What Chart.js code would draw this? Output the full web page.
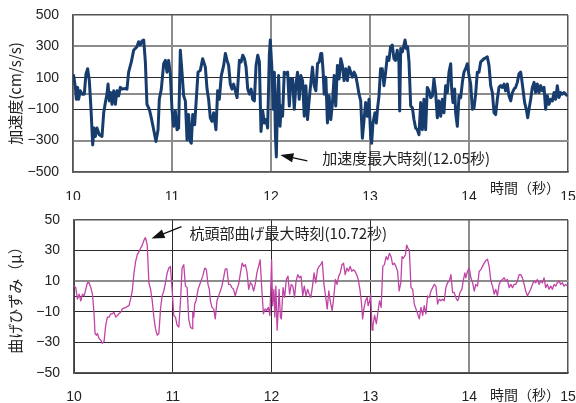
<!DOCTYPE html>
<html>
<head>
<meta charset="utf-8">
<script src="https://cdn.jsdelivr.net/npm/chart.js@4.4.1/dist/chart.umd.min.js"></script>
<style>
html, body { margin: 0; padding: 0; background: #fff; }
#wrap { position: relative; width: 576px; height: 403px; }
#wrap canvas { position: absolute; left: 0; }
</style>
</head>
<body>
<div id="wrap">
  <canvas id="accChart" width="576" height="200" style="top:0"></canvas>
  <canvas id="strainChart" width="576" height="203" style="top:200px"></canvas>
</div>
<script>
// acceleration (cm/s/s)
const accTime = [
  10.000, 10.007, 10.024, 10.034, 10.047, 10.057, 10.074, 10.091, 10.114, 10.131, 10.148, 10.165, 10.182, 10.199,
  10.212, 10.226, 10.242, 10.266, 10.293, 10.310, 10.327, 10.343, 10.354, 10.367, 10.380, 10.394, 10.411, 10.428,
  10.444, 10.461, 10.478, 10.495, 10.529, 10.545, 10.562, 10.589, 10.613, 10.646, 10.663, 10.680, 10.697, 10.714,
  10.731, 10.747, 10.771, 10.791, 10.815, 10.838, 10.859, 10.872, 10.892, 10.916, 10.933, 10.949, 10.966, 10.983,
  11.000, 11.017, 11.034, 11.051, 11.067, 11.084, 11.101, 11.118, 11.135, 11.152, 11.168, 11.185, 11.195, 11.209,
  11.229, 11.242, 11.263, 11.286, 11.310, 11.337, 11.354, 11.370, 11.387, 11.404, 11.421, 11.444, 11.461, 11.478,
  11.498, 11.522, 11.539, 11.556, 11.572, 11.589, 11.606, 11.623, 11.640, 11.657,
  11.681, 11.698, 11.715, 11.732, 11.748, 11.765, 11.782, 11.799, 11.815, 11.832, 11.849, 11.866, 11.883, 11.889,
  11.899, 11.916, 11.933, 11.950, 11.966, 11.983, 11.993, 12.010, 12.023, 12.034, 12.044, 12.054, 12.067, 12.077,
  12.091, 12.104, 12.117, 12.134, 12.151, 12.168, 12.185, 12.201, 12.218, 12.235, 12.252, 12.268, 12.285, 12.302,
  12.319, 12.336, 12.352, 12.369, 12.386, 12.403, 12.419, 12.436, 12.453, 12.470, 12.487, 12.503, 12.513, 12.527,
  12.537, 12.554, 12.570, 12.587, 12.604, 12.621, 12.638, 12.654, 12.671, 12.688, 12.705, 12.721, 12.738, 12.755,
  12.772, 12.789, 12.805, 12.822, 12.839, 12.856, 12.872, 12.889, 12.906, 12.923, 12.940, 12.956, 12.973, 12.990,
  13.007, 13.017, 13.030, 13.050, 13.064, 13.077, 13.091, 13.107, 13.124, 13.141, 13.158, 13.174, 13.191, 13.208,
  13.225, 13.242, 13.258, 13.275, 13.292, 13.300,
  13.310, 13.327, 13.343, 13.354, 13.367, 13.380, 13.394, 13.411, 13.428, 13.444, 13.461, 13.478, 13.495, 13.512,
  13.529, 13.545, 13.562, 13.579, 13.596, 13.613, 13.630, 13.646, 13.663, 13.680, 13.697, 13.714, 13.731, 13.747,
  13.764, 13.781, 13.798, 13.815, 13.825, 13.838, 13.855, 13.865, 13.882, 13.899, 13.916, 13.933, 13.949, 13.966,
  13.983, 14.000, 14.017, 14.034, 14.051, 14.067, 14.084, 14.101, 14.118, 14.135, 14.152, 14.168, 14.185, 14.202,
  14.219, 14.236, 14.253, 14.269, 14.286, 14.303, 14.320, 14.337, 14.354, 14.370, 14.387, 14.404, 14.421, 14.438,
  14.455, 14.471, 14.488, 14.505, 14.522, 14.532, 14.545, 14.562, 14.579, 14.593, 14.606, 14.623, 14.640, 14.657,
  14.673, 14.690, 14.707, 14.724, 14.741, 14.758, 14.774, 14.791, 14.808, 14.825, 14.842, 14.859, 14.875, 14.892,
  14.909, 14.926, 14.943, 14.960, 14.976, 14.993
];
const accVal = [
  105, 114, 39, -37, 39, -37, 17, -4, -4, 125, 158, 82, -101, -328,
  -220, -274, -220, -263, -274, -123, -58, -4, 60, -47, 6, -69, 17, -69,
  17, -15, 39, 28, 32, 28, 136, 201, 276, 298, 330, 309, 334, 341,
  201, -69, -101, -155, -231, -306, -231, -37, 28, 190, 211, 136, 211, 125,
  -101, -209, -112, -231, -220, 276, 136, -15, -47, -296, -134, -306, -317, -134,
  -199, -69, 136, 147, 222, 168, 28, -37, -155, -177, -123, -231, 17, -37,
  114, 179, 255, 211, 179, 60, 28, 60, 17, -26,
  211, 201, 244, 222, 168, 28, -4, 28, -37, -47, 179, 244, 201, 28,
  -242, -112, -188, -166, -220, 244, 341, 147, -101, 136, -252, -404, -15, 114,
  -209, -80, -145, 136, 125, 136, -80, 93, 93, -101, 60, 136, -37, 114,
  82, -145, 50, -166, -37, 71, 168, 50, 17, 190, 201, 255, 255, 136,
  -4, 104, -188, -15, -166, -58, 114, -80, 179, 93, 222, 179, 82, 158,
  82, 168, 136, 104, 136, 114, 60, -4, -47, -285, -166, -58, -145, -37,
  -274, -317, -188, -123, -188, -91, -15, 158, 158, 50, 136, 233, 211, 298,
  309, 222, 211, 276, 201, -112,
  287, 265, 309, 341, 287, 298, 201, -80, -91, -166, -220, -231, -263, -58,
  -231, -37, -231, 39, 17, -26, -15, 93, 6, -155, -47, -145, -37, -123,
  50, 6, 136, 190, 28, -58, 28, -123, -209, -15, -26, 71, 136, 158,
  190, 114, 60, -101, -91, -4, 136, 136, 201, 211, 222, 227, 233, 179,
  50, 6, -123, -134, -37, 39, 50, 39, 60, 17, 60, -15, -47, 6,
  28, 39, 71, 125, 136, 93, 28, -58, -101, -155, -101, -37, 39, 71,
  6, 60, 6, 50, 17, 39, -101, -15, -69, -37, -47, 6, -37, 50,
  -26, 6, -4, 6, -4, -15
];

// pile-head bending strain (μ)
const strainTime = [
  10.000, 10.018, 10.035, 10.052, 10.069, 10.086, 10.103, 10.119, 10.136, 10.153, 10.170, 10.187, 10.203, 10.213,
  10.227, 10.237, 10.254, 10.271, 10.287, 10.304, 10.321, 10.338, 10.355, 10.371, 10.388, 10.405, 10.422, 10.439,
  10.455, 10.472, 10.489, 10.523, 10.556, 10.573, 10.590, 10.607, 10.624, 10.640, 10.657, 10.674, 10.691, 10.708,
  10.724, 10.741, 10.758, 10.775, 10.792, 10.808, 10.825, 10.842, 10.859, 10.876, 10.892, 10.909, 10.926, 10.943,
  10.960, 10.976, 10.993, 11.010, 11.027, 11.044, 11.061, 11.077, 11.094, 11.111, 11.128, 11.145, 11.161, 11.178,
  11.195, 11.202, 11.212, 11.222, 11.235, 11.256, 11.279, 11.303, 11.323, 11.340, 11.356, 11.370, 11.380, 11.397,
  11.414, 11.430, 11.447, 11.464, 11.481, 11.497, 11.514, 11.531, 11.548, 11.565, 11.582, 11.598, 11.615, 11.632,
  11.649, 11.666,
  11.685, 11.702, 11.719, 11.735, 11.752, 11.768, 11.785, 11.801, 11.818, 11.834, 11.851, 11.868, 11.884, 11.901,
  11.917, 11.934, 11.950, 11.967, 11.983, 12.000, 12.010, 12.023, 12.033, 12.043, 12.056, 12.066, 12.076, 12.089,
  12.099, 12.116, 12.132, 12.149, 12.166, 12.182, 12.199, 12.215, 12.232, 12.248, 12.265, 12.281, 12.298, 12.315,
  12.331, 12.348, 12.364, 12.381, 12.397, 12.414, 12.430, 12.447, 12.464, 12.480, 12.497, 12.513, 12.530, 12.546,
  12.563, 12.579, 12.596, 12.613, 12.629, 12.646, 12.662, 12.679, 12.695, 12.712, 12.728, 12.745, 12.762, 12.778,
  12.795, 12.811, 12.828, 12.844, 12.861, 12.877, 12.894, 12.911, 12.921, 12.934, 12.950, 12.967, 12.977, 12.993,
  13.003, 13.017, 13.026, 13.043, 13.060, 13.076, 13.093, 13.109, 13.126, 13.142, 13.159, 13.175, 13.192, 13.209,
  13.225, 13.242, 13.258, 13.275, 13.291, 13.308,
  13.320, 13.333, 13.354, 13.367, 13.380, 13.394, 13.411, 13.428, 13.444, 13.461, 13.478, 13.495, 13.512, 13.529,
  13.545, 13.562, 13.579, 13.596, 13.613, 13.630, 13.646, 13.663, 13.680, 13.697, 13.714, 13.731, 13.747, 13.764,
  13.781, 13.798, 13.815, 13.832, 13.848, 13.865, 13.882, 13.892, 13.906, 13.926, 13.939, 13.956, 13.966, 13.983,
  14.000, 14.017, 14.034, 14.051, 14.067, 14.084, 14.101, 14.118, 14.135, 14.152, 14.168, 14.185, 14.202, 14.219,
  14.236, 14.253, 14.269, 14.286, 14.303, 14.320, 14.337, 14.354, 14.370, 14.387, 14.404, 14.421, 14.438, 14.455,
  14.471, 14.488, 14.505, 14.522, 14.539, 14.556, 14.572, 14.589, 14.606, 14.623, 14.640, 14.657, 14.673, 14.690,
  14.707, 14.724, 14.741, 14.758, 14.774, 14.791, 14.808, 14.825, 14.842, 14.859, 14.875, 14.892, 14.909, 14.926,
  14.943, 14.960, 14.976, 14.993
];
const strainVal = [
  7.0, 5.8, -1.7, 1.5, -2.8, 1.5, 0.4, 4.7, 9.0, 9.0, 5.8, 1.5, -11.3, -24.2,
  -25.3, -24.2, -27.4, -28.5, -30.6, -29.5, -18.8, -13.5, -13.5, -11.3, -11.3, -10.3, -13.5, -12.4,
  -11.3, -10.3, -8.1, -7.1, -6.0, -1.7, 3.6, 15.4, 22.9, 27.2, 29.3, 31.5, 33.6, 36.8,
  38.5, 33.6, 9.0, 4.7, -2.8, -13.5, -21.0, -25.3, -24.2, -8.1, 0.4, 3.6, 9.0, 15.4,
  18.6, 19.7, 4.7, -12.4, -13.5, -18.8, -19.9, -3.9, 18.6, 20.8, 6.8, 5.8, -14.6, -19.9,
  -21.0, -10.3, -13.5, -4.9, -2.8, 4.7, 9.0, 13.3, 18.6, 17.5, 7.9, 4.7, -2.8, -7.1,
  -8.1, -14.6, -2.8, 0.4, 3.6, 6.8, 12.2, 18.0, 18.0, 7.9, 7.9, 5.8, 4.7, 0.4,
  4.7, 7.9,
  15.4, 21.8, 19.7, 20.8, 15.4, 4.7, 9.0, 7.9, 3.6, 7.9, 15.4, 19.7, 24.0, 4.7,
  -11.3, -8.1, -9.2, -7.1, -12.4, 24.0, -6.0, 4.7, -13.5, 6.8, -22.0, -10.3, 4.7, -13.5,
  -14.6, 5.8, -0.6, 11.1, 13.3, 1.5, 7.9, 6.8, -0.6, 10.1, 14.3, 12.2, 13.3, 0.4,
  6.8, 0.4, 4.7, 1.5, -0.6, 6.8, 15.4, 9.0, 17.5, 19.7, 20.8, 22.9, 7.9, 0.4,
  -8.1, 3.6, -3.9, -9.2, -0.6, 11.1, 7.9, 13.3, 15.4, 20.8, 21.8, 14.3, 18.6, 16.5,
  19.7, 16.5, 17.5, 16.5, 14.3, 11.1, 4.7, -4.9, -14.6, -8.1, -2.8, -0.6, -6.0, -2.8,
  1.5, -22.0, -18.8, -12.4, -17.8, -10.3, -2.8, -7.1, 19.7, 20.8, 26.1, 24.0, 28.2, 26.1,
  20.8, 21.8, 19.7, 16.5, 3.6, 9.0,
  26.1, 25.0, 27.2, 33.6, 31.5, 30.4, 5.8, 4.7, -4.9, -8.1, -11.3, -14.6, -7.1, -12.4,
  -6.0, -11.3, 0.4, -0.6, 3.6, 5.8, 7.9, 6.8, -4.9, -1.7, -2.8, -1.7, -2.8, 5.8,
  9.0, 10.1, 14.3, 2.6, 2.6, -0.6, -2.8, -1.7, 2.6, 4.7, 10.1, 15.4, 12.2, 16.5,
  18.6, 12.2, 9.0, 3.6, 7.9, 6.8, 16.5, 17.5, 19.7, 21.8, 23.5, 24.4, 19.7, 10.1,
  6.8, 1.5, 4.7, 0.4, 7.9, 10.1, 11.1, 12.2, 10.1, 11.1, 5.8, 7.9, 5.8, 7.9,
  7.9, 10.1, 14.3, 14.3, 12.2, 7.9, 3.6, 0.4, 2.6, 4.7, 7.9, 10.1, 9.0, 11.1,
  7.9, 10.1, 9.0, 12.2, 5.8, 7.9, 4.7, 6.8, 4.7, 7.9, 6.8, 9.0, 10.1, 7.9,
  9.0, 6.8, 7.9, 6.8
];

const accTicks = [-500, -300, -100, 0, 100, 300, 500];
const strainTicks = [-50, -30, -10, 0, 10, 30, 50];

const FONT = "'Liberation Sans', Arial, 'Noto Sans CJK JP', sans-serif";
const JFONT = "'Noto Sans CJK JP', 'Liberation Sans', sans-serif";
const DARK = '#2a2a2a';
const GRAY = '#8c8c8c';
const FRAME = '#555';

function fmtTick(v) {
  if (v === 0) return '';
  return v < 0 ? '\u2212' + Math.abs(v) : String(v);
}

// arrow + caption pointing at a data point, plus the "時間（秒）" caption
function notePlugin(opt) {
  return {
    id: 'note',
    afterDatasetsDraw(chart) {
      const ctx = chart.ctx;
      const px = chart.scales.x.getPixelForValue(opt.t);
      const py = chart.scales.y.getPixelForValue(opt.v);
      const tipX = px + opt.tip[0], tipY = py + opt.tip[1];
      const tailX = px + opt.tail[0], tailY = py + opt.tail[1];
      const ang = Math.atan2(tipY - tailY, tipX - tailX);
      const c = Math.cos(ang), s = Math.sin(ang);
      ctx.save();
      ctx.strokeStyle = '#111';
      ctx.fillStyle = '#111';
      ctx.lineWidth = 1.3;
      ctx.beginPath();
      ctx.moveTo(tailX, tailY);
      ctx.lineTo(tipX - 10 * c, tipY - 10 * s);
      ctx.stroke();
      ctx.beginPath();
      ctx.moveTo(tipX, tipY);
      ctx.lineTo(tipX - 13 * c - 4.5 * s, tipY - 13 * s + 4.5 * c);
      ctx.lineTo(tipX - 13 * c + 4.5 * s, tipY - 13 * s - 4.5 * c);
      ctx.closePath();
      ctx.fill();

      ctx.fillStyle = '#222';
      ctx.font = '15px ' + JFONT;
      ctx.textBaseline = 'middle';
      ctx.textAlign = 'left';
      ctx.fillText(opt.label, px + opt.text[0], py + opt.text[1]);

      ctx.font = '14px ' + JFONT;
      ctx.fillText('時間（秒）', opt.timeLabel[0], opt.timeLabel[1]);
      ctx.restore();
    }
  };
}

function makeChart(id, cfg) {
  const points = cfg.time.map((t, i) => ({ x: t, y: cfg.vals[i] }));
  return new Chart(document.getElementById(id), {
    type: 'line',
    data: {
      datasets: [{
        data: points,
        borderColor: cfg.color,
        borderWidth: cfg.width,
        borderJoinStyle: 'round',
        pointRadius: 0,
        tension: 0,
        fill: false
      }]
    },
    options: {
      responsive: false,
      animation: false,
      events: [],
      layout: { padding: cfg.padding },
      plugins: { legend: { display: false }, tooltip: { enabled: false } },
      scales: {
        x: {
          type: 'linear',
          min: 10,
          max: 15,
          afterBuildTicks: ax => { ax.ticks = [10, 11, 12, 13, 14, 15].map(v => ({ value: v })); },
          afterFit: ax => {
            ax.height = cfg.xHeight;
            ax.paddingLeft = 0;
            ax.paddingRight = 0;
          },
          ticks: {
            color: '#222',
            font: { family: FONT, size: 14 },
            padding: cfg.xPad,
            maxRotation: 0,
            autoSkip: false
          },
          grid: {
            drawTicks: false,
            color: ctx => (ctx.tick.value === 15 ? FRAME : cfg.xGrid(ctx.tick.value)),
            lineWidth: ctx => (ctx.tick.value === 15 ? 1.5 : (cfg.xGrid(ctx.tick.value) === GRAY ? 2 : 1))
          },
          border: { color: FRAME, width: 1.5 }
        },
        y: {
          min: cfg.ticks[0],
          max: cfg.ticks[cfg.ticks.length - 1],
          afterBuildTicks: ax => { ax.ticks = cfg.ticks.map(v => ({ value: v })); },
          afterFit: ax => {
            ax.width = cfg.yWidth;
            ax.paddingTop = 0;
            ax.paddingBottom = 0;
          },
          ticks: {
            color: '#222',
            font: { family: FONT, size: 14 },
            padding: 14,
            callback: v => fmtTick(v)
          },
          grid: {
            drawTicks: false,
            color: ctx => (ctx.tick.value === cfg.ticks[cfg.ticks.length - 1] ? FRAME : cfg.yGrid(ctx.tick.value)),
            lineWidth: ctx => {
              if (ctx.tick.value === cfg.ticks[cfg.ticks.length - 1]) return 1.5;
              return cfg.yGrid(ctx.tick.value) === GRAY ? 2 : 1;
            }
          },
          border: { color: FRAME, width: 1.5 },
          title: {
            display: true,
            text: cfg.yTitle,
            color: '#222',
            font: { family: JFONT, size: 15 },
            padding: { top: 6, bottom: 0 }
          }
        }
      }
    },
    plugins: [notePlugin(cfg.note)]
  });
}

let minIdx = 0;
accVal.forEach((v, i) => { if (v < accVal[minIdx]) minIdx = i; });
let maxIdx = 0;
strainVal.forEach((v, i) => { if (v > strainVal[maxIdx]) maxIdx = i; });

makeChart('accChart', {
  time: accTime,
  vals: accVal,
  ticks: accTicks,
  color: '#173d6e',
  width: 3,
  padding: { left: 0, right: 8, top: 15, bottom: 0 },
  yWidth: 73,
  xHeight: 28,
  xPad: 17,
  yTitle: '加速度(cm/s/s)',
  xGrid: v => GRAY,
  yGrid: v => (v === 100 || v === -100 ? DARK : GRAY),
  note: {
    t: accTime[minIdx], v: accVal[minIdx],
    tip: [4, -2], tail: [31, 4], text: [46, 1],
    label: '加速度最大時刻(12.05秒)',
    timeLabel: [490, 188]
  }
});

makeChart('strainChart', {
  time: strainTime,
  vals: strainVal,
  ticks: strainTicks,
  color: '#c043a6',
  width: 1.3,
  padding: { left: 0, right: 8, top: 20, bottom: 0 },
  yWidth: 74,
  xHeight: 30,
  xPad: 16,
  yTitle: '曲げひずみ（μ）',
  xGrid: v => (v === 14 ? GRAY : DARK),
  yGrid: v => (v === 10 ? GRAY : DARK),
  note: {
    t: strainTime[maxIdx], v: strainVal[maxIdx],
    tip: [6, 1], tail: [36, -11], text: [44, -4],
    label: '杭頭部曲げ最大時刻(10.72秒)',
    timeLabel: [490, 195]
  }
});
</script>
</body>
</html>
